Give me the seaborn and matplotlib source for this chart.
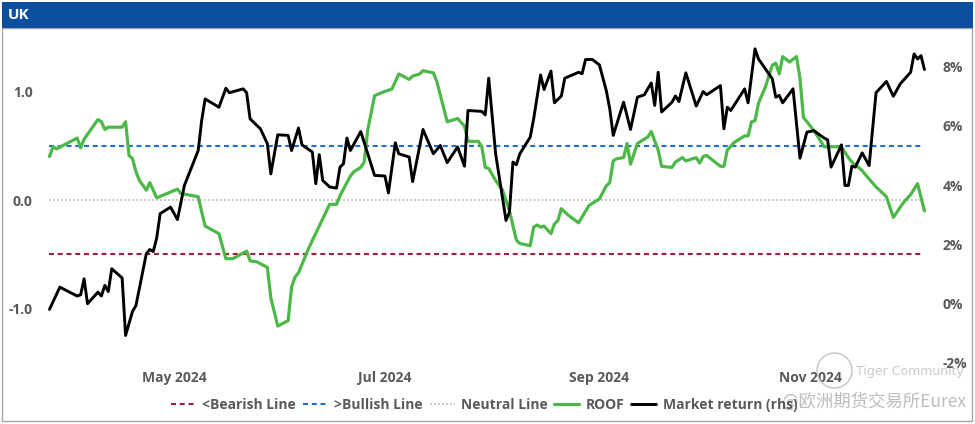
import matplotlib
matplotlib.use("Agg")
import matplotlib.pyplot as plt
import matplotlib.dates as mdates
from matplotlib.patches import Rectangle, Ellipse
from matplotlib.ticker import FuncFormatter
import pandas as pd
import seaborn as sns

# ROOF indicator (left axis)
roof_dates = [
    "2024-03-26", "2024-03-27", "2024-03-28", "2024-04-03", "2024-04-04", "2024-04-05",
    "2024-04-09", "2024-04-10", "2024-04-11", "2024-04-12", "2024-04-16", "2024-04-17",
    "2024-04-18", "2024-04-19", "2024-04-20", "2024-04-21", "2024-04-23", "2024-04-24",
    "2024-04-26", "2024-04-29", "2024-05-02", "2024-05-03", "2024-05-08", "2024-05-09",
    "2024-05-10", "2024-05-14", "2024-05-16", "2024-05-18", "2024-05-22", "2024-05-23",
    "2024-05-25", "2024-05-28", "2024-05-29", "2024-05-31", "2024-06-03", "2024-06-04",
    "2024-06-05", "2024-06-06", "2024-06-09", "2024-06-15", "2024-06-17", "2024-06-18",
    "2024-06-21", "2024-06-22", "2024-06-24", "2024-06-25", "2024-06-26", "2024-06-28",
    "2024-07-01", "2024-07-03", "2024-07-05", "2024-07-08", "2024-07-09", "2024-07-11",
    "2024-07-12", "2024-07-15", "2024-07-16", "2024-07-19", "2024-07-22", "2024-07-24",
    "2024-07-25", "2024-07-28", "2024-07-29", "2024-07-30", "2024-07-31", "2024-08-02",
    "2024-08-04", "2024-08-06", "2024-08-08", "2024-08-09", "2024-08-12", "2024-08-13",
    "2024-08-14", "2024-08-15", "2024-08-16", "2024-08-18", "2024-08-19", "2024-08-20",
    "2024-08-21", "2024-08-23", "2024-08-26", "2024-08-29", "2024-08-31", "2024-09-01",
    "2024-09-03", "2024-09-04", "2024-09-05", "2024-09-06", "2024-09-08", "2024-09-09",
    "2024-09-10", "2024-09-12", "2024-09-15", "2024-09-16", "2024-09-18", "2024-09-19",
    "2024-09-22", "2024-09-23", "2024-09-25", "2024-09-26", "2024-09-29", "2024-09-30",
    "2024-10-01", "2024-10-02", "2024-10-06", "2024-10-07", "2024-10-08", "2024-10-10",
    "2024-10-13", "2024-10-14", "2024-10-15", "2024-10-16", "2024-10-17", "2024-10-19",
    "2024-10-21", "2024-10-22", "2024-10-23", "2024-10-24", "2024-10-26", "2024-10-28",
    "2024-10-29", "2024-10-30", "2024-11-02", "2024-11-05", "2024-11-10", "2024-11-12",
    "2024-11-13", "2024-11-16", "2024-11-17", "2024-11-20", "2024-11-23", "2024-11-25",
    "2024-11-28", "2024-11-30", "2024-12-02", "2024-12-04",
]
roof_values = [
    0.40, 0.49, 0.47, 0.57, 0.48, 0.56,
    0.74, 0.72, 0.65, 0.67, 0.67, 0.72,
    0.41, 0.38, 0.26, 0.18, 0.09, 0.16,
    0.02, 0.06, 0.10, 0.06, 0.03, -0.11,
    -0.24, -0.31, -0.54, -0.54, -0.47, -0.56,
    -0.57, -0.62, -0.90, -1.16, -1.11, -0.80,
    -0.71, -0.67, -0.44, -0.04, -0.04, 0.04,
    0.22, 0.26, 0.30, 0.35, 0.64, 0.96,
    1.00, 1.02, 1.16, 1.11, 1.14, 1.16,
    1.19, 1.17, 1.09, 0.72, 0.75, 0.68,
    0.54, 0.54, 0.49, 0.30, 0.29, 0.18,
    0.09, -0.10, -0.37, -0.40, -0.42, -0.25,
    -0.23, -0.25, -0.24, -0.31, -0.22, -0.19,
    -0.08, -0.14, -0.21, -0.05, -0.01, 0.01,
    0.13, 0.16, 0.36, 0.38, 0.39, 0.52,
    0.33, 0.52, 0.58, 0.63, 0.46, 0.31,
    0.30, 0.35, 0.39, 0.36, 0.39, 0.34,
    0.40, 0.41, 0.31, 0.31, 0.46, 0.53,
    0.59, 0.59, 0.72, 0.73, 0.89, 1.04,
    1.24, 1.26, 1.16, 1.32, 1.27, 1.32,
    1.12, 0.76, 0.64, 0.49, 0.49, 0.39,
    0.35, 0.27, 0.23, 0.12, 0.03, -0.16,
    -0.02, 0.05, 0.15, -0.10,
]

# Market return in percent (right axis)
market_dates = [
    "2024-03-26", "2024-03-27", "2024-03-29", "2024-04-03", "2024-04-04", "2024-04-05",
    "2024-04-06", "2024-04-09", "2024-04-10", "2024-04-11", "2024-04-12", "2024-04-13",
    "2024-04-16", "2024-04-17", "2024-04-19", "2024-04-20", "2024-04-23", "2024-04-24",
    "2024-04-25", "2024-04-26", "2024-04-27", "2024-04-30", "2024-05-02", "2024-05-04",
    "2024-05-08", "2024-05-09", "2024-05-10", "2024-05-14", "2024-05-16", "2024-05-17",
    "2024-05-21", "2024-05-22", "2024-05-23", "2024-05-26", "2024-05-28", "2024-05-29",
    "2024-05-31", "2024-06-03", "2024-06-04", "2024-06-06", "2024-06-07", "2024-06-10",
    "2024-06-11", "2024-06-12", "2024-06-13", "2024-06-15", "2024-06-17", "2024-06-18",
    "2024-06-19", "2024-06-20", "2024-06-21", "2024-06-24", "2024-06-28", "2024-07-01",
    "2024-07-02", "2024-07-04", "2024-07-05", "2024-07-08", "2024-07-09", "2024-07-12",
    "2024-07-15", "2024-07-17", "2024-07-19", "2024-07-22", "2024-07-24", "2024-07-25",
    "2024-07-29", "2024-07-30", "2024-07-31", "2024-08-02", "2024-08-05", "2024-08-06",
    "2024-08-07", "2024-08-08", "2024-08-09", "2024-08-12", "2024-08-13", "2024-08-15",
    "2024-08-16", "2024-08-18", "2024-08-19", "2024-08-21", "2024-08-22", "2024-08-26",
    "2024-08-27", "2024-08-28", "2024-08-30", "2024-09-01", "2024-09-03", "2024-09-04",
    "2024-09-05", "2024-09-08", "2024-09-10", "2024-09-12", "2024-09-14", "2024-09-16",
    "2024-09-17", "2024-09-18", "2024-09-19", "2024-09-22", "2024-09-23", "2024-09-24",
    "2024-09-26", "2024-09-29", "2024-10-01", "2024-10-02", "2024-10-06", "2024-10-07",
    "2024-10-08", "2024-10-09", "2024-10-13", "2024-10-14", "2024-10-16", "2024-10-17",
    "2024-10-21", "2024-10-22", "2024-10-23", "2024-10-24", "2024-10-27", "2024-10-29",
    "2024-10-31", "2024-11-02", "2024-11-05", "2024-11-06", "2024-11-07", "2024-11-10",
    "2024-11-11", "2024-11-12", "2024-11-13", "2024-11-14", "2024-11-16", "2024-11-18",
    "2024-11-20", "2024-11-23", "2024-11-25", "2024-11-27", "2024-11-30", "2024-12-01",
    "2024-12-02", "2024-12-03", "2024-12-04",
]
market_values = [
    -0.19, 0.06, 0.56, 0.26, 0.30, 0.84,
    0.00, 0.39, 0.26, 0.62, 0.41, 1.18,
    0.87, -1.07, -0.26, -0.06, 1.69, 1.83,
    1.76, 2.22, 3.04, 3.26, 2.84, 3.99,
    5.17, 6.18, 6.91, 6.63, 7.27, 7.12,
    7.25, 7.12, 6.24, 5.90, 5.40, 4.38,
    5.70, 5.68, 5.17, 5.93, 5.36, 5.12,
    4.05, 5.03, 4.16, 3.94, 3.90, 4.61,
    4.72, 5.59, 5.17, 5.81, 4.33, 4.31,
    3.74, 5.43, 5.06, 4.95, 4.12, 5.88,
    5.06, 5.34, 4.76, 5.29, 4.64, 6.52,
    6.49, 6.37, 7.61, 5.06, 2.81, 3.09,
    4.78, 4.69, 5.06, 5.62, 6.24, 7.72,
    7.23, 7.85, 6.78, 7.01, 7.61, 7.81,
    7.76, 8.24, 8.24, 8.06, 7.19, 6.58,
    5.68, 6.80, 5.88, 6.97, 7.05, 7.45,
    6.69, 7.81, 6.47, 6.80, 7.01, 6.82,
    7.79, 6.67, 7.16, 7.05, 7.36, 5.90,
    6.63, 6.52, 7.25, 6.78, 8.60, 8.26,
    7.59, 6.97, 7.03, 6.78, 7.25, 4.91,
    5.79, 5.84, 5.59, 5.53, 4.61, 5.36,
    3.99, 3.99, 4.64, 4.61, 5.09, 4.66,
    7.12, 7.50, 7.00, 7.42, 7.81, 8.43,
    8.26, 8.37, 7.90,
]

# reference lines (left axis)
bearish_level = -0.5
bullish_level = 0.5
neutral_level = 0.0

tick_months = [5, 7, 9, 11]
left_ticks = [-1.0, 0.0, 1.0]
right_ticks = [-2, 0, 2, 4, 6, 8]

sns.set_style("white")
plt.rcParams["font.family"] = ["Open Sans", "DejaVu Sans"]
plt.rcParams["font.weight"] = "bold"

W, H = 975, 424
fig = plt.figure(figsize=(W / 100, H / 100), dpi=100)

# outer frame and title bar
fig.patches.append(Rectangle((2 / W, 3 / H), 970 / W, 393 / H, transform=fig.transFigure,
                             fill=False, edgecolor="#A6A6A6", lw=1))
fig.patches.append(Rectangle((2 / W, (H - 28) / H), 971 / W, 26 / H, transform=fig.transFigure,
                             facecolor="#0B4F9E", edgecolor="none"))
fig.text(8 / W, (H - 15) / H, "UK", color="white", fontsize=11, fontweight="bold", va="center")

ax = fig.add_axes([45 / W, 61 / H, 885 / W, 326 / H])
ax2 = ax.twinx()

roof_x = pd.to_datetime(roof_dates)
market_x = pd.to_datetime(market_dates)
span = [roof_x[0], roof_x[-1]]

sns.lineplot(x=span, y=[bearish_level, bearish_level], ax=ax, color="#A11D3B", lw=1.5,
             linestyle=(0, (2.4, 1.8)), label="<Bearish Line")
sns.lineplot(x=span, y=[bullish_level, bullish_level], ax=ax, color="#1F6FCF", lw=1.5,
             linestyle=(0, (2.4, 1.8)), label=">Bullish Line")
sns.lineplot(x=span, y=[neutral_level, neutral_level], ax=ax, color="#BFBFBF", lw=1.3,
             linestyle=(0, (1, 1.2)), label="Neutral Line")
sns.lineplot(x=roof_x, y=roof_values, ax=ax, color="#4CB848", lw=2.3, sort=False,
             estimator=None, label="ROOF")
sns.lineplot(x=market_x, y=market_values, ax=ax2, color="black", lw=2.1, sort=False,
             estimator=None, label="Market return (rhs)")

for a in (ax, ax2):
    if a.get_legend() is not None:
        a.get_legend().remove()
    for s in a.spines.values():
        s.set_visible(False)
    a.set_xlabel("")
    a.set_ylabel("")

start = pd.Timestamp("2024-05-01")
ax.set_xlim(start - pd.Timedelta(days=37.3), start + pd.Timedelta(days=218.6))
ax.xaxis.set_major_locator(mdates.MonthLocator(bymonth=tick_months))
ax.xaxis.set_major_formatter(mdates.DateFormatter("%b %Y"))

ax.set_ylim(-1.5, 1.5)
ax.set_yticks(left_ticks)
ax.yaxis.set_major_formatter(FuncFormatter(lambda v, _: f"{v:.1f}"))
ax2.set_ylim(-2, 9)
ax2.set_yticks(right_ticks)
ax2.yaxis.set_major_formatter(FuncFormatter(lambda v, _: f"{v:.0f}%"))

ax.tick_params(axis="x", length=0, labelsize=10, labelcolor="#595959", pad=6)
ax.tick_params(axis="y", length=0, labelsize=10, labelcolor="#595959", pad=9)
ax2.tick_params(axis="y", length=0, labelsize=10, labelcolor="#595959", pad=9)

h1, l1 = ax.get_legend_handles_labels()
h2, l2 = ax2.get_legend_handles_labels()
fig.legend(h1 + h2, l1 + l2, loc="center", bbox_to_anchor=(484 / W, 19 / H), ncol=5,
           frameon=False, fontsize=10, handlelength=1.8, handletextpad=0.45,
           columnspacing=0.5, labelcolor="#595959")

# watermark
fig.patches.append(Ellipse((834.5 / W, (H - 370.5) / H), 35 / W, 35 / H, transform=fig.transFigure,
                           fill=False, edgecolor="#C4C4C4", lw=1))
fig.text(856 / W, (H - 372) / H, "Tiger Community", color="#C9C9C9", fontsize=9,
         fontweight="normal", va="center", family=["DejaVu Sans"])
fig.text(782 / W, (H - 402) / H, "@欧洲期货交易所Eurex", color="#BDBDBD", fontsize=12.5,
         fontweight="normal", va="center", family=["Noto Sans CJK SC", "DejaVu Sans"])

fig.savefig("out.png", dpi=100)
